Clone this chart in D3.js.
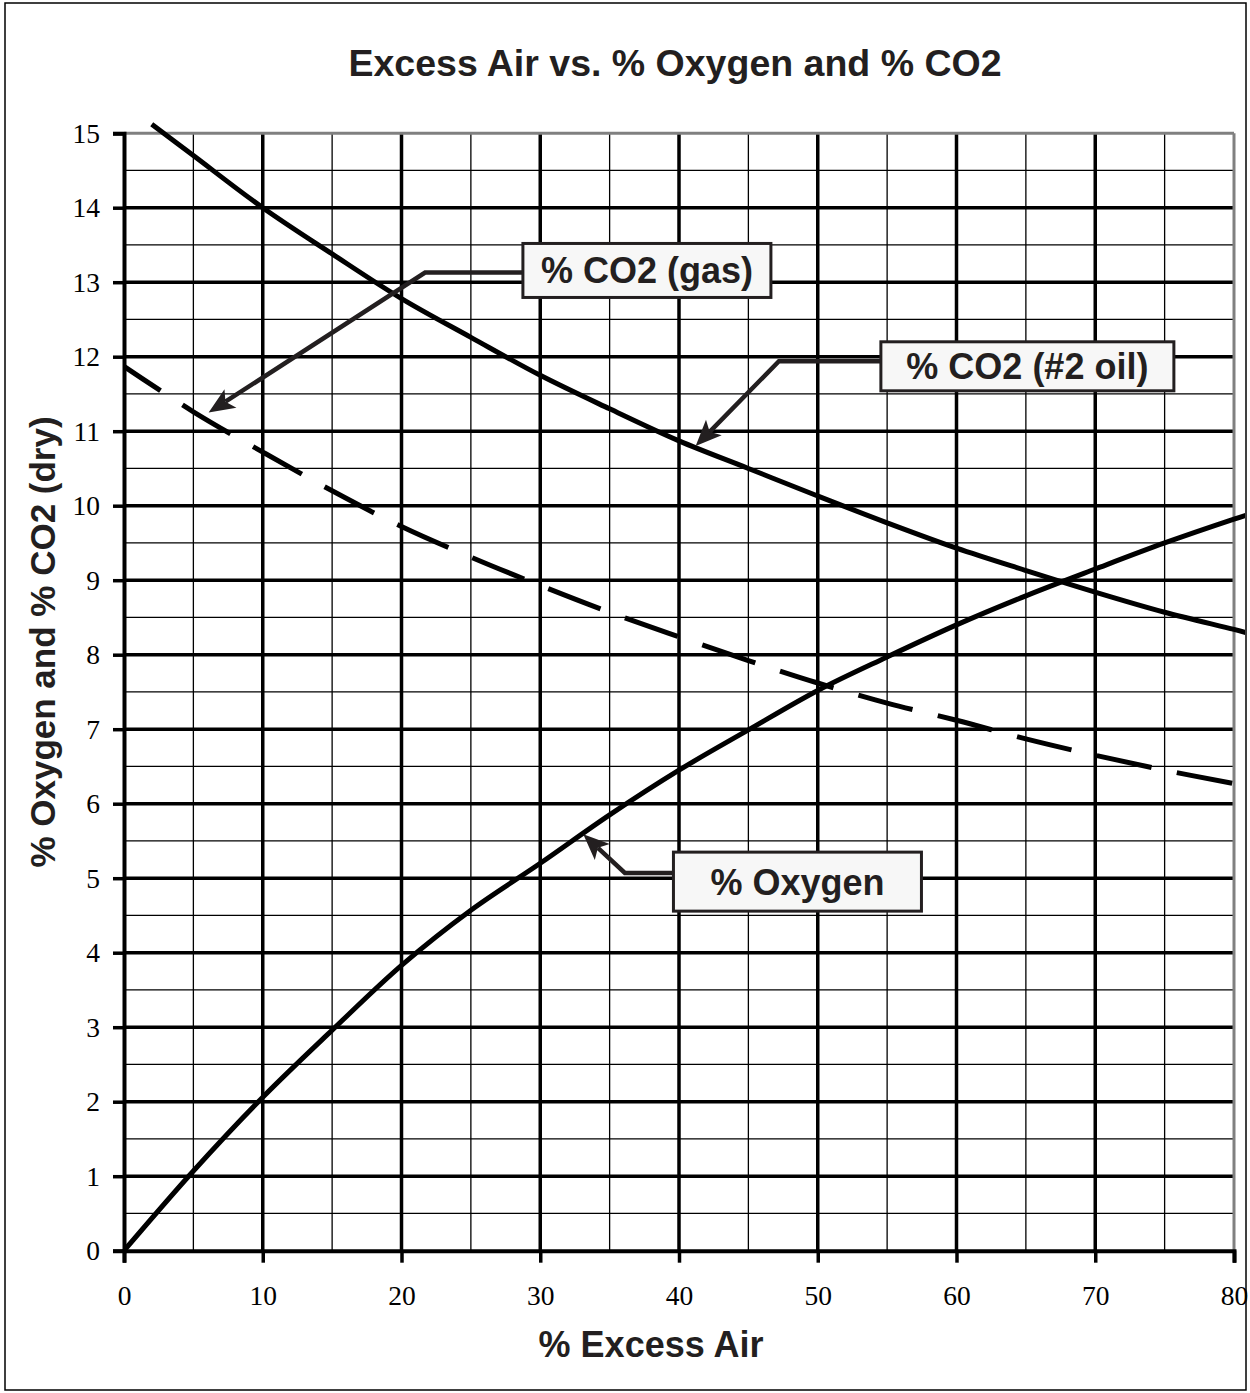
<!DOCTYPE html>
<html>
<head>
<meta charset="utf-8">
<script src="https://cdn.jsdelivr.net/npm/d3@7"></script>
<style>
  body { margin: 0; background: #fff; }
  svg { display: block; }
</style>
</head>
<body>
<svg id="chart" width="1250" height="1393"></svg>
<script>

// values
const excessAir = [0, 5, 10, 15, 20, 25, 30, 35, 40, 45, 50, 55, 60, 65, 70, 75, 80, 81];
const oxygen    = [0, 1.07, 2.06, 2.96, 3.83, 4.57, 5.2, 5.85, 6.45, 6.99, 7.52, 7.97, 8.4, 8.79, 9.15, 9.5, 9.82, 9.88];
const co2Gas    = [11.87, 11.26, 10.72, 10.2, 9.72, 9.31, 8.93, 8.57, 8.24, 7.92, 7.62, 7.35, 7.12, 6.87, 6.65, 6.45, 6.27, 6.24];
const oilAir    = [2, 5, 10, 15, 20, 25, 30, 35, 40, 45, 50, 55, 60, 65, 70, 75, 80, 81];
const co2Oil    = [15.12, 14.7, 14.0, 13.38, 12.78, 12.26, 11.75, 11.3, 10.87, 10.5, 10.13, 9.77, 9.43, 9.13, 8.84, 8.57, 8.34, 8.29];

const xTicks = [0, 10, 20, 30, 40, 50, 60, 70, 80];
const yTicks = d3.range(0, 16);

// callouts: label, box top-left (data coords), elbow, arrow tip
const callouts = [
    {text: '% CO2 (gas)',    box: [28.75, 13.52], w: 248, h: 54, elbow: [21.7, 13.13], tip: [6.1, 11.25]},
    {text: '% CO2 (#2 oil)', box: [54.55, 12.2],  w: 293, h: 49, elbow: [47.2, 11.94], tip: [41.2, 10.8]},
    {text: '% Oxygen',       box: [39.6, 5.35],   w: 248, h: 59, elbow: [36.1, 5.07],  tip: [33.1, 5.59]}
];

const svg = d3.select('#chart');
const sans = 'Liberation Sans, Arial, sans-serif';
const serif = 'Liberation Serif, Times New Roman, serif';

const plot = {left: 124, right: 1234, top: 133.2, bottom: 1250.7};

const x = d3.scaleLinear().domain([0, 80]).range([plot.left, plot.right]);
const y = d3.scaleLinear().domain([0, 15]).range([plot.bottom, plot.top]);

// outer frame
svg.append('rect')
    .attr('x', 5).attr('y', 3)
    .attr('width', 1241).attr('height', 1387)
    .attr('fill', '#fff')
    .attr('stroke', '#000')
    .attr('stroke-width', 1.5);

svg.append('text')
    .attr('x', 675).attr('y', 76)
    .attr('text-anchor', 'middle')
    .style('font', 'bold 37.5px ' + sans)
    .style('fill', '#231f20')
    .text('Excess Air vs. % Oxygen and % CO2');

// grid
const grid = svg.append('g').attr('id', 'grid');
d3.range(0.5, 15, 0.5).forEach(function(v) {
    grid.append('line')
        .attr('x1', plot.left).attr('x2', plot.right)
        .attr('y1', y(v)).attr('y2', y(v))
        .attr('stroke', '#000')
        .attr('stroke-width', v % 1 == 0 ? 3.5 : 1.3);
});
d3.range(5, 80, 5).forEach(function(v) {
    grid.append('line')
        .attr('y1', plot.top).attr('y2', plot.bottom)
        .attr('x1', x(v)).attr('x2', x(v))
        .attr('stroke', '#000')
        .attr('stroke-width', v % 10 == 0 ? 3.5 : 1.3);
});

// plot border top / right in grey
grid.append('line')
    .attr('x1', plot.left).attr('x2', plot.right)
    .attr('y1', plot.top).attr('y2', plot.top)
    .attr('stroke', '#808080').attr('stroke-width', 3);
grid.append('line')
    .attr('x1', plot.right).attr('x2', plot.right)
    .attr('y1', plot.top).attr('y2', plot.bottom)
    .attr('stroke', '#808080').attr('stroke-width', 3);

// axes
const yAxis = d3.axisLeft(y).tickValues(yTicks).tickSize(11).tickPadding(13).tickFormat(d3.format('d'));
const xAxis = d3.axisBottom(x).tickValues(xTicks).tickSize(12).tickPadding(23).tickFormat(d3.format('d'));

const gy = svg.append('g').attr('transform', 'translate(' + plot.left + ',0)').call(yAxis);
const gx = svg.append('g').attr('transform', 'translate(0,' + plot.bottom + ')').call(xAxis);

[gx, gy].forEach(function(g) {
    g.select('.domain').attr('stroke', '#000').attr('stroke-width', 4);
    g.selectAll('.tick line').attr('stroke', '#000').attr('stroke-width', 3.5);
    g.selectAll('.tick text')
        .style('font-family', serif)
        .style('font-size', '27.5px')
        .attr('fill', '#000');
});

svg.append('text')
    .attr('x', 651).attr('y', 1357)
    .attr('text-anchor', 'middle')
    .style('font', 'bold 36px ' + sans)
    .style('fill', '#231f20')
    .text('% Excess Air');

svg.append('text')
    .attr('transform', 'translate(55,642) rotate(-90)')
    .attr('text-anchor', 'middle')
    .style('font', 'bold 35px ' + sans)
    .style('fill', '#231f20')
    .text('% Oxygen and % CO2 (dry)');

// curves
svg.append('clipPath').attr('id', 'clip')
    .append('rect')
    .attr('x', plot.left).attr('y', 110)
    .attr('width', 1245 - plot.left).attr('height', plot.bottom - 110);

const line = d3.line()
    .x(function(d) { return x(d[0]); })
    .y(function(d) { return y(d[1]); })
    .curve(d3.curveCatmullRom.alpha(0.5));

const curves = svg.append('g').attr('clip-path', 'url(#clip)');

curves.append('path')
    .datum(d3.zip(excessAir, co2Gas))
    .attr('d', line)
    .attr('fill', 'none')
    .attr('stroke', '#000')
    .attr('stroke-width', 5)
    .attr('stroke-dasharray', '56,26')
    .attr('stroke-dashoffset', 12);

curves.append('path')
    .datum(d3.zip(oilAir, co2Oil))
    .attr('d', line)
    .attr('fill', 'none')
    .attr('stroke', '#000')
    .attr('stroke-width', 5);

curves.append('path')
    .datum(d3.zip(excessAir, oxygen))
    .attr('d', line)
    .attr('fill', 'none')
    .attr('stroke', '#000')
    .attr('stroke-width', 5);

// callouts
const ink = '#231f20';
callouts.forEach(function(c) {
    var g = svg.append('g');
    var bx = x(c.box[0]), by = y(c.box[1]);
    var ex = x(c.elbow[0]), ey = y(c.elbow[1]);
    var tx = x(c.tip[0]), ty = y(c.tip[1]);

    // arrow head
    var ang = Math.atan2(ty - ey, tx - ex);
    var len = 26, half = 11, notch = 20;
    var pts = [
        [tx, ty],
        [tx - len*Math.cos(ang) + half*Math.sin(ang), ty - len*Math.sin(ang) - half*Math.cos(ang)],
        [tx - notch*Math.cos(ang), ty - notch*Math.sin(ang)],
        [tx - len*Math.cos(ang) - half*Math.sin(ang), ty - len*Math.sin(ang) + half*Math.cos(ang)]
    ];

    g.append('polyline')
        .attr('points', [[bx, ey], [ex, ey], [tx - notch*Math.cos(ang), ty - notch*Math.sin(ang)]].join(' '))
        .attr('fill', 'none')
        .attr('stroke', ink)
        .attr('stroke-width', 4.5);

    g.append('polygon')
        .attr('points', pts.join(' '))
        .attr('fill', ink);

    g.append('rect')
        .attr('x', bx).attr('y', by)
        .attr('width', c.w).attr('height', c.h)
        .attr('fill', '#f7f7f7')
        .attr('stroke', ink)
        .attr('stroke-width', 3);

    g.append('text')
        .attr('x', bx + c.w/2).attr('y', by + c.h/2)
        .attr('dy', '0.36em')
        .attr('text-anchor', 'middle')
        .style('font', 'bold 36px ' + sans)
        .style('fill', ink)
        .text(c.text);
});

</script>
</body>
</html>
